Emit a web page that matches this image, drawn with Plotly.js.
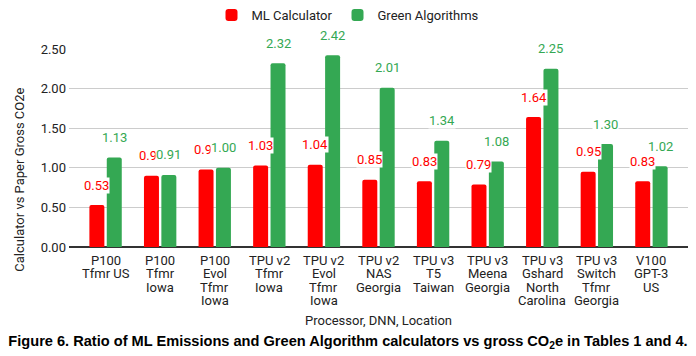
<!DOCTYPE html>
<html>
<head>
<meta charset="utf-8">
<script src="https://cdn.plot.ly/plotly-3.0.1.min.js"></script>
<style>html,body{margin:0;padding:0;background:#fff;}#chart{width:696px;height:356px;}</style>
</head>
<body>
<div id="chart"></div>
<script>
const categories = [
  "P100<br>Tfmr US",
  "P100<br>Tfmr<br>Iowa",
  "P100<br>Evol<br>Tfmr<br>Iowa",
  "TPU v2<br>Tfmr<br>Iowa",
  "TPU v2<br>Evol<br>Tfmr<br>Iowa",
  "TPU v2<br>NAS<br>Georgia",
  "TPU v3<br>T5<br>Taiwan",
  "TPU v3<br>Meena<br>Georgia",
  "TPU v3<br>Gshard<br>North<br>Carolina",
  "TPU v3<br>Switch<br>Tfmr<br>Georgia",
  "V100<br>GPT-3<br>US"
];
const mlCalculator = [0.53, 0.90, 0.98, 1.03, 1.04, 0.85, 0.83, 0.79, 1.64, 0.95, 0.83];
const mlLabels = ["0.53", "0.90", "0.91", "1.03", "1.04", "0.85", "0.83", "0.79", "1.64", "0.95", "0.83"];
const greenAlgorithms = [1.13, 0.91, 1.00, 2.32, 2.42, 2.01, 1.34, 1.08, 2.25, 1.30, 1.02];
const greenLabels = ["1.13", "0.91", "1.00", "2.32", "2.42", "2.01", "1.34", "1.08", "2.25", "1.30", "1.02"];
const xTitle = "Processor, DNN, Location";
const yTitle = "Calculator vs Paper Gross CO2e";
const caption = "<b>Figure 6. Ratio of ML Emissions and Green Algorithm calculators vs gross CO<sub>2</sub>e in Tables 1 and 4.</b>";

const RED = "#ff0000", GREEN = "#34a853";
const idx = categories.map((c, i) => i);
const F = "Roboto, Arial, sans-serif";

const traces = [
  {type: "bar", name: "ML Calculator", x: idx, y: mlCalculator,
   marker: {color: RED, cornerradius: 2}, hoverinfo: "y"},
  {type: "bar", name: "Green Algorithms", x: idx, y: greenAlgorithms,
   marker: {color: GREEN, cornerradius: 2}, hoverinfo: "y"}
];

const annotations = [];
idx.forEach(i => {
  annotations.push({x: i, y: mlCalculator[i], xref: "x", yref: "y", text: mlLabels[i],
    showarrow: false, xshift: -8.7, yshift: 20, yanchor: "middle", xanchor: "center",
    bgcolor: "#fff", borderpad: 0,
    font: {family: F, size: 13, color: RED}});
});
idx.forEach(i => {
  annotations.push({x: i, y: greenAlgorithms[i], xref: "x", yref: "y", text: greenLabels[i],
    showarrow: false, xshift: 8.7, yshift: 20, yanchor: "middle", xanchor: "center",
    bgcolor: "#fff", borderpad: 0,
    font: {family: F, size: 13, color: GREEN}});
});
idx.forEach(i => {
  categories[i].split("<br>").forEach((line, k) => {
    annotations.push({x: i, y: 0, xref: "x", yref: "paper", text: line, showarrow: false,
      yanchor: "middle", xanchor: "center", yshift: -13.5 - k * 13.3,
      font: {family: F, size: 13, color: "#222"}});
  });
});
annotations.push({x: 0.5, y: 0, xref: "paper", yref: "paper", text: xTitle, showarrow: false,
  xanchor: "center", yanchor: "middle", yshift: -73,
  font: {family: F, size: 13, color: "#222"}});
annotations.push({x: 0, y: 0.34, xref: "paper", yref: "paper", text: yTitle, showarrow: false,
  textangle: -90, xanchor: "center", yanchor: "middle", xshift: -49,
  font: {family: F, size: 13, color: "#222"}});

const layout = {
  width: 696, height: 356,
  margin: {l: 69, r: 8, t: 49, b: 109},
  paper_bgcolor: "#fff", plot_bgcolor: "#fff",
  barmode: "group", bargap: 0.363, bargroupgap: 0.138,
  showlegend: true,
  legend: {orientation: "h", x: 0.5, xref: "container", xanchor: "center",
    y: 1, yref: "container", yanchor: "top",
    font: {family: F, size: 13, color: "#222"}, itemclick: false, traceorder: "normal"},
  title: {text: caption,
    xref: "container", x: 0.5, xanchor: "center", yref: "container", y: 0.042, yanchor: "middle",
    font: {family: "Liberation Sans, Arial, sans-serif", size: 14.6, color: "#000"}},
  xaxis: {type: "linear", range: [-0.67, 10.67], showticklabels: false, showgrid: false,
    zeroline: false, showline: false, ticks: "", fixedrange: true},
  yaxis: {range: [0, 2.5], dtick: 0.5, tick0: 0, tickformat: ".2f",
    gridcolor: "#cccccc", gridwidth: 1, zeroline: true, zerolinecolor: "#333", zerolinewidth: 1.5,
    showline: false, ticks: "", ticklabelstandoff: 2,
    tickfont: {family: F, size: 13, color: "#222"}},
  annotations: annotations
};

Plotly.newPlot("chart", traces, layout, {displayModeBar: false, staticPlot: true});
</script>
</body>
</html>
